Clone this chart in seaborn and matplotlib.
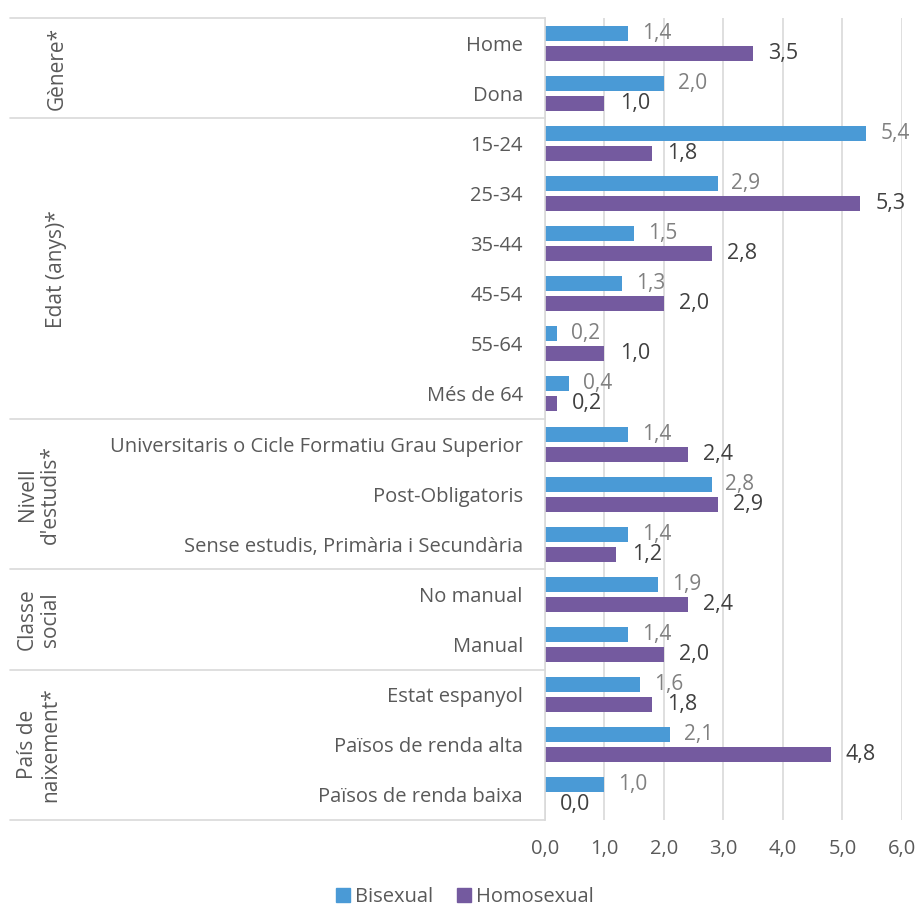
import matplotlib
matplotlib.use("Agg")
import matplotlib.pyplot as plt
import matplotlib.transforms as mtransforms
from matplotlib.lines import Line2D
import seaborn as sns
import pandas as pd

categories = ["Home", "Dona", "15-24", "25-34", "35-44", "45-54", "55-64", "Més de 64",
              "Universitaris o Cicle Formatiu Grau Superior", "Post-Obligatoris",
              "Sense estudis, Primària i Secundària", "No manual", "Manual",
              "Estat espanyol", "Països de renda alta", "Països de renda baixa"]
bisexual = [1.4, 2.0, 5.4, 2.9, 1.5, 1.3, 0.2, 0.4, 1.4, 2.8, 1.4, 1.9, 1.4, 1.6, 2.1, 1.0]
homosexual = [3.5, 1.0, 1.8, 5.3, 2.8, 2.0, 1.0, 0.2, 2.4, 2.9, 1.2, 2.4, 2.0, 1.8, 4.8, 0.0]
series = ["Bisexual", "Homosexual"]
groups = ["Gènere*", "Edat (anys)*", "Nivell\nd'estudis*", "Classe\nsocial", "País de\nnaixement*"]
group_sizes = [2, 6, 3, 2, 3]
x_ticks = [0, 1, 2, 3, 4, 5, 6]

df = pd.DataFrame({
    "cat": categories * 2,
    "val": bisexual + homosexual,
    "serie": [series[0]] * len(categories) + [series[1]] * len(categories),
})

sns.set_theme(style="white")
plt.rcParams["font.family"] = ["Open Sans", "DejaVu Sans"]

fig = plt.figure(figsize=(9.2, 9.08), dpi=100)
ax = fig.add_axes([545 / 920, 1 - 820 / 908, 357 / 920, 802 / 908])

colors = {"Bisexual": "#4a9ad6", "Homosexual": "#745a9f"}
sns.barplot(data=df, y="cat", x="val", hue="serie", order=categories, hue_order=series,
            palette=colors, saturation=1, orient="h", width=0.8, gap=0.25, linewidth=0,
            ax=ax, legend=False)

ax.set_xlim(0, 6)
ax.set_ylim(len(categories) - 0.5, -0.5)
ax.set_xticks(x_ticks)
ax.set_xticklabels([f"{t:.1f}".replace(".", ",") for t in x_ticks], fontsize=14.5, color="#595959")
ax.tick_params(axis="x", length=0, pad=14)
ax.tick_params(axis="y", length=0, pad=16)
for lab in ax.get_yticklabels():
    lab.set_fontsize(14.5)
    lab.set_color("#595959")
ax.set_xlabel("")
ax.set_ylabel("")
ax.grid(axis="x", color="#d9d9d9", linewidth=1.2)
ax.set_axisbelow(True)
for s in ["top", "right", "bottom"]:
    ax.spines[s].set_visible(False)
ax.spines["left"].set_color("#d9d9d9")
ax.spines["left"].set_linewidth(1.2)

# value labels
for i, cont in enumerate(ax.containers):
    vals = bisexual if i == 0 else homosexual
    labels = [f"{v:.1f}".replace(".", ",") for v in vals]
    if i == 0:
        ax.bar_label(cont, labels=labels, padding=10, fontsize=15, color="#808080")
    else:
        ax.bar_label(cont, labels=labels, padding=11, fontsize=15.5, color="#404040")

# group separators and labels
trans = mtransforms.blended_transform_factory(fig.transFigure, ax.transData)
bounds = [-0.5]
for g in group_sizes:
    bounds.append(bounds[-1] + g)
for b in bounds:
    ax.add_line(Line2D([10 / 920, 545 / 920], [b, b], transform=trans, color="#d9d9d9",
                       linewidth=1.2, clip_on=False))
for name, lo, hi in zip(groups, bounds[:-1], bounds[1:]):
    xpx = 39 if "\n" in name else 57
    ax.text(xpx / 920, (lo + hi) / 2, name, transform=trans, rotation=90, ha="center",
            va="center", fontsize=15, color="#595959", multialignment="center",
            linespacing=1.15)

# legend
handles = [plt.Rectangle((0, 0), 1, 1, color=colors[s]) for s in series]
fig.legend(handles, series, loc="center", bbox_to_anchor=(465 / 920, 1 - 897 / 908),
           ncol=2, frameon=False, fontsize=14.5, handlelength=0.7, handleheight=0.7,
           handletextpad=0.25, columnspacing=1.2, labelcolor="#595959",
           borderpad=0.2)

fig.savefig("out.png", dpi=100)
